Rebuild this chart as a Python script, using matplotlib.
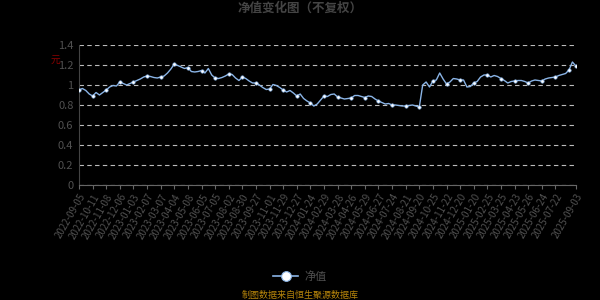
import matplotlib
matplotlib.use("Agg")
import matplotlib.pyplot as plt
from matplotlib.lines import Line2D

plt.rcParams['font.family'] = ['Noto Sans CJK SC', 'DejaVu Sans']

# net value series, one value roughly every 5 trading days
nav = [0.95, 0.965, 0.945, 0.91, 0.89, 0.925, 0.90, 0.925, 0.95, 0.98,
       0.995, 0.99, 1.03, 1.015, 1.00, 1.015, 1.03, 1.045, 1.06, 1.08,
       1.09, 1.085, 1.075, 1.07, 1.08, 1.09, 1.12, 1.16, 1.21, 1.195,
       1.18, 1.165, 1.175, 1.135, 1.13, 1.135, 1.145, 1.12, 1.165, 1.10,
       1.07, 1.065, 1.075, 1.09, 1.11, 1.105, 1.07, 1.045, 1.08, 1.065,
       1.04, 1.02, 1.02, 1.00, 0.975, 0.955, 0.96, 1.005, 0.995, 0.975,
       0.95, 0.93, 0.945, 0.92, 0.89, 0.91, 0.865, 0.84, 0.82, 0.79,
       0.81, 0.85, 0.89, 0.885, 0.905, 0.91, 0.88, 0.87, 0.86, 0.865,
       0.87, 0.895, 0.895, 0.885, 0.875, 0.89, 0.885, 0.86, 0.84, 0.825,
       0.81, 0.815, 0.80, 0.80, 0.795, 0.79, 0.79, 0.795, 0.80, 0.79,
       0.78, 1.00, 1.03, 0.98, 1.04, 1.05, 1.12, 1.06, 1.01, 1.03,
       1.065, 1.06, 1.05, 1.05, 0.98, 0.985, 1.02, 1.035, 1.08, 1.10,
       1.10, 1.08, 1.095, 1.085, 1.065, 1.045, 1.02, 1.035, 1.04, 1.045,
       1.045, 1.035, 1.02, 1.04, 1.05, 1.045, 1.04, 1.06, 1.07, 1.075,
       1.08, 1.095, 1.105, 1.115, 1.15, 1.23, 1.19]

tick_labels = ['2022-09-05', '2022-10-11', '2022-11-08', '2022-12-06', '2023-01-03',
               '2023-02-07', '2023-03-07', '2023-04-04', '2023-05-08', '2023-06-05',
               '2023-07-05', '2023-08-02', '2023-08-30', '2023-09-27', '2023-11-01',
               '2023-11-29', '2023-12-27', '2024-01-24', '2024-02-29', '2024-03-28',
               '2024-04-26', '2024-05-29', '2024-06-27', '2024-07-24', '2024-08-21',
               '2024-09-20', '2024-10-25', '2024-11-22', '2024-12-20', '2025-01-20',
               '2025-02-25', '2025-03-25', '2025-04-23', '2025-05-26', '2025-06-24',
               '2025-07-22', '2025-09-03']

step = 4
n = len(nav)
xs = list(range(n))
tick_pos = list(range(0, step * (len(tick_labels) - 1), step)) + [n - 1]
marker_pos = list(range(0, n, step)) + [n - 1]

line_color = '#8ab4e6'
text_color = '#505050'

fig = plt.figure(figsize=(6, 3), dpi=100, facecolor='black')
ax = fig.add_axes([0.1317, 0.3833, 0.828, 0.4667], facecolor='black')

ax.plot(xs, nav, color=line_color, lw=1.0, zorder=3)
ax.plot(marker_pos, [nav[i] for i in marker_pos], ls='none', marker='o', ms=2.4,
        mfc='white', mec=line_color, mew=0.5, zorder=4)

ax.set_xlim(0, n - 1)
ax.set_ylim(0, 1.4)
ax.set_yticks([0, 0.2, 0.4, 0.6, 0.8, 1.0, 1.2, 1.4])
ax.set_yticklabels(['0', '0.2', '0.4', '0.6', '0.8', '1', '1.2', '1.4'])
ax.set_xticks(tick_pos)
ax.set_xticklabels(tick_labels, rotation=60, ha='right', rotation_mode='anchor')

ax.grid(axis='y', color='#bbbbbb', ls=(0, (4, 3)), lw=0.8)
ax.set_axisbelow(True)
for side in ['top', 'right']:
    ax.spines[side].set_visible(False)
ax.spines['left'].set_color('#444444')
ax.spines['bottom'].set_color('#666666')
ax.tick_params(axis='y', length=0, colors=text_color, labelsize=8, pad=4)
ax.tick_params(axis='x', length=3, color='#666666', colors=text_color, labelsize=7, pad=2)

fig.text(0.5, 0.972, '净值变化图（不复权）', ha='center', va='center',
         color='#444444', fontsize=9, fontweight='bold')
fig.text(0.092, 0.80, '元', ha='center', va='center', color='#8b0000', fontsize=7)

handle = Line2D([0], [0], color=line_color, lw=1.2, marker='o', ms=7,
                mfc='white', mec=line_color, mew=0.8)
fig.legend([handle], ['净值'], loc='center', bbox_to_anchor=(0.5, 0.078),
           frameon=False, fontsize=8, labelcolor=text_color, handlelength=2.2,
           handletextpad=0.6)
fig.text(0.5, 0.015, '制图数据来自恒生聚源数据库', ha='center', va='center',
         color='#b8860b', fontsize=6.5)

fig.savefig('out.png', dpi=100, facecolor='black')
